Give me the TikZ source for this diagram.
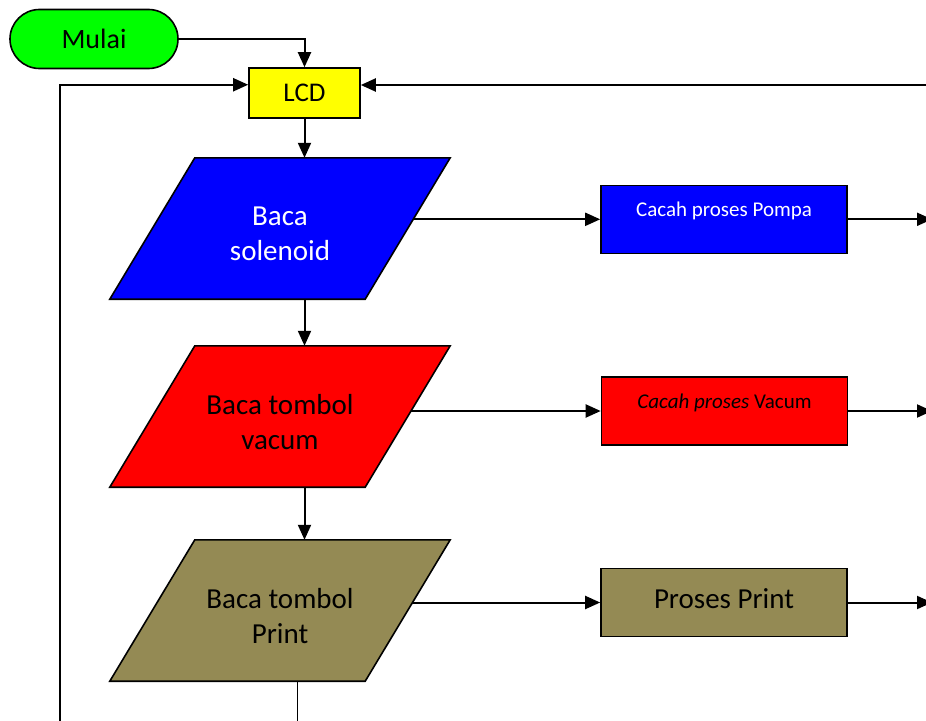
\documentclass[tikz,border=0pt]{standalone}
\usepackage{fontspec}
\setmainfont{Carlito}
\usetikzlibrary{arrows.meta,calc,backgrounds}
\definecolor{mgreen}{HTML}{00FF00}
\definecolor{mblue}{HTML}{0000FF}
\definecolor{mred}{HTML}{FF0000}
\definecolor{molive}{HTML}{948A54}
\definecolor{myellow}{HTML}{FFFF00}
\begin{document}
\begin{tikzpicture}[x=1pt,y=-1pt,
  arr/.style={line width=2pt,-{Triangle[length=15pt,width=13pt]}},
  outline/.style={draw=black,line width=1.6pt},
  para/.style={minimum width=340pt,minimum height=141pt,inner sep=0pt},
  paratext/.style={align=center,font=\fontsize{29}{35}\selectfont,yshift=-5.5pt},
  pbox/.style={outline,minimum width=246pt,minimum height=68pt,inner sep=0pt},
  smalltext/.style={font=\fontsize{21}{25}\selectfont,yshift=8pt},
]
\useasboundingbox (0,0) rectangle (926,720);

\node[outline,fill=mgreen,rounded corners=29.5pt,minimum width=168pt,minimum height=59pt,
  font=\fontsize{28}{32}\selectfont] (start) at (94,39) {Mulai};
\node[outline,fill=myellow,minimum width=111pt,minimum height=50pt,
  font=\fontsize{27}{31}\selectfont] (lcd) at (304.5,93) {LCD};

\node[para,label={[paratext,text=white]center:Baca\\solenoid}] (p1) at (280,228.5) {};
\node[para,label={[paratext]center:Baca tombol\\vacum}] (p2) at (280,416.5) {};
\node[para,label={[paratext]center:Baca tombol\\Print}] (p3) at (280,610.5) {};

\node[pbox,fill=mblue,label={[smalltext,text=white]center:Cacah proses Pompa}] (b1) at (724,219.3) {};
\node[pbox,fill=mred,label={[smalltext]center:\textit{Cacah proses} Vacum}] (b2) at (724.5,411) {};
\node[pbox,fill=molive,label={[font=\fontsize{29}{33}\selectfont,yshift=3.5pt]center:Proses Print}] (b3) at (724,602.5) {};

\coordinate (ll) at (59.5,722);
\coordinate (rr) at (932,85);
\coordinate (bb) at (297,722);
\coordinate (o1) at (932,219.3);

\begin{scope}[on background layer]
\draw[arr] (p1.center |- b1.west) -- (b1.west);
\draw[arr] (p2.center |- b2.west) -- (b2.west);
\draw[arr] (p3.center |- b3.west) -- (b3.west);
\foreach \p/\c in {p1/mblue,p2/mred,p3/molive}{
  \draw[outline,fill=\c,line join=miter] ($(\p.north west)+(85,0)$) -- (\p.north east)
    -- ($(\p.south east)-(85,0)$) -- (\p.south west) -- cycle;
}
\end{scope}

\draw[arr] (start.east) -| (lcd.north);
\draw[arr] (lcd.south) -- (lcd.south |- p1.north);
\draw[arr] (lcd.south |- p1.south) -- (lcd.south |- p2.north);
\draw[arr] (lcd.south |- p2.south) -- (lcd.south |- p3.north);
\draw[arr] (ll) |- ($(lcd.north west)!0.34!(lcd.south west)$);
\draw[arr] (rr) -- (rr -| lcd.east);
\draw[line width=1pt] (bb |- p3.south) -- (bb);
\draw[arr] (b1.east) -- (b1.east -| o1);
\draw[arr] (b2.east) -- (b2.east -| o1);
\draw[arr] (b3.east) -- (b3.east -| o1);
\end{tikzpicture}
\end{document}
